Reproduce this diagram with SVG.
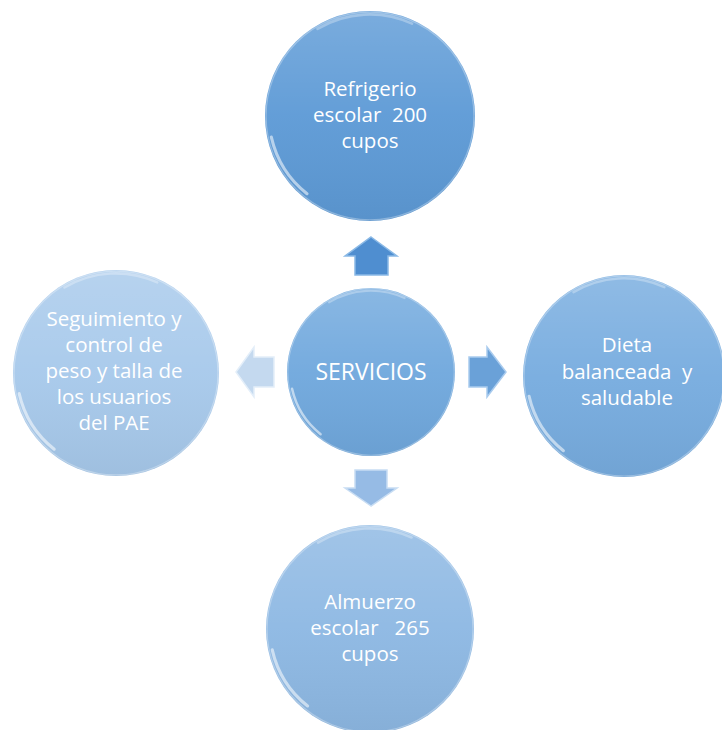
<svg xmlns="http://www.w3.org/2000/svg" width="722" height="730" viewBox="0 0 722 730">
<defs>
<linearGradient id="shade" x1="0" y1="0" x2="0" y2="1">
<stop offset="0" stop-color="#ffffff" stop-opacity="0.18"/>
<stop offset="0.5" stop-color="#ffffff" stop-opacity="0.04"/>
<stop offset="1" stop-color="#000000" stop-opacity="0.05"/>
</linearGradient>
<g id="bubble">
<circle r="1" fill="url(#shade)"/>
<path d="M -0.94 0.2 A 0.955 0.955 0 0 0 -0.6 0.74" fill="none" stroke="#ffffff" stroke-opacity="0.55" stroke-width="0.03" stroke-linecap="round"/>
<path d="M -0.5 -0.83 A 0.97 0.97 0 0 1 0.4 -0.88" fill="none" stroke="#ffffff" stroke-opacity="0.3" stroke-width="0.025" stroke-linecap="round"/>
<circle r="0.99" fill="none" stroke="#ffffff" stroke-opacity="0.3" stroke-width="0.012"/>
</g>
</defs>
<style>
text{font-family:"Open Sans","Liberation Sans",sans-serif;fill:#ffffff;text-anchor:middle;white-space:pre}
.t{font-size:20.5px}
.c{font-size:23px}
.ar{stroke-width:1.5;stroke-linejoin:miter}
</style>
<g id="connectors">
<polygon class="ar" points="371,237 397,256 388,256 388,275 355,275 355,256 345,256" fill="#4f8ed0" stroke="#8ab9e6"/>
<polygon class="ar" points="506,372 487,397 487,387 469,387 469,357 487,357 487,347" fill="#6aa1d8" stroke="#a9cbee"/>
<polygon class="ar" points="371,506 345,488 355,488 355,470 387,470 387,488 397,488" fill="#96bbe5" stroke="#c8ddf3"/>
<polygon class="ar" points="236,372 254,347 254,357 274,357 274,387 254,387 254,397" fill="#c4d9ef" stroke="#e3eef9"/>
</g>
<g id="node-top">
<circle cx="370" cy="116" r="105" fill="#5d9ad6"/>
<use href="#bubble" transform="translate(370 116) scale(105)"/>
<text class="t" x="370" y="96">Refrigerio</text>
<text class="t" x="370" y="122">escolar  200</text>
<text class="t" x="370" y="148">cupos</text>
</g>
<g id="node-center">
<circle cx="371" cy="372" r="84" fill="#70a8dd"/>
<use href="#bubble" transform="translate(371 372) scale(84)"/>
<text class="c" x="371" y="380">SERVICIOS</text>
</g>
<g id="node-right">
<circle cx="624" cy="376" r="101" fill="#77acdf"/>
<use href="#bubble" transform="translate(624 376) scale(101)"/>
<text class="t" x="627" y="352">Dieta</text>
<text class="t" x="627" y="379">balanceada  y</text>
<text class="t" x="627" y="405">saludable</text>
</g>
<g id="node-bottom">
<circle cx="370" cy="629" r="104" fill="#8db8e3"/>
<use href="#bubble" transform="translate(370 629) scale(104)"/>
<text class="t" x="370" y="609">Almuerzo</text>
<text class="t" x="370" y="635">escolar   265</text>
<text class="t" x="370" y="661">cupos</text>
</g>
<g id="node-left">
<circle cx="116" cy="373" r="103" fill="#a7c9eb"/>
<use href="#bubble" transform="translate(116 373) scale(103)"/>
<text class="t" x="114" y="326">Seguimiento y</text>
<text class="t" x="114" y="352">control de</text>
<text class="t" x="114" y="378">peso y talla de</text>
<text class="t" x="114" y="404">los usuarios</text>
<text class="t" x="114" y="430">del PAE</text>
</g>
</svg>
